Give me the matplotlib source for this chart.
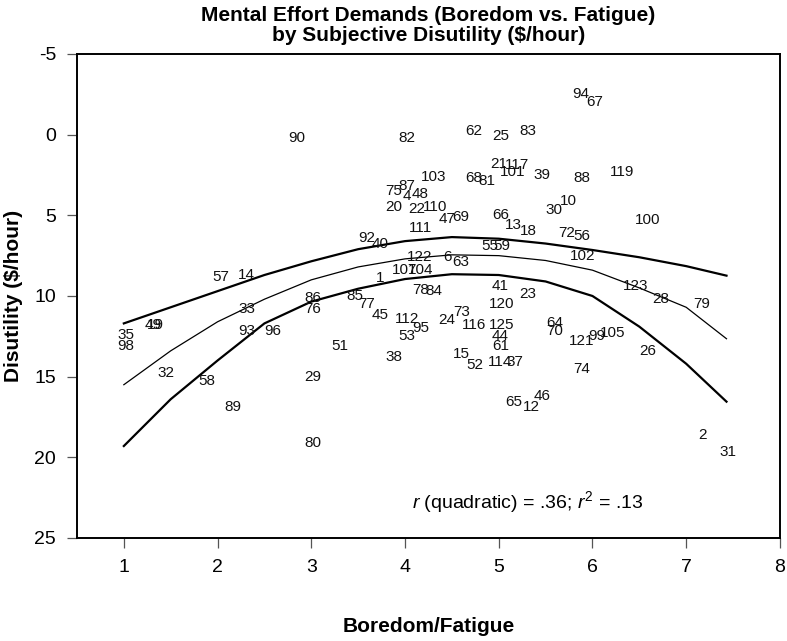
import matplotlib
matplotlib.use("Agg")
import matplotlib.pyplot as plt

# case labels and their (boredom/fatigue, disutility) positions
ids = ["94", "67", "119", "88", "10", "30", "100", "72", "56", "102", "123", "28", "79",
       "82", "62", "25", "83", "21", "117", "101", "39", "103", "68", "81", "87", "75",
       "4", "48", "20", "22", "110", "47", "69", "66", "13", "18", "111", "92", "40",
       "55", "59", "122", "6", "63", "107", "104", "1", "78", "84", "85", "77", "45",
       "112", "95", "53", "24", "73", "116", "41", "120", "23", "125", "44", "61", "51",
       "38", "15", "52", "114", "37", "65", "46", "12", "64", "70", "121", "99", "105",
       "26", "74", "2", "31", "57", "14", "49", "19", "35", "98", "33", "86", "76", "93",
       "96", "32", "58", "29", "89", "80", "90"]
boredom = [5.87, 6.02, 6.32, 5.89, 5.74, 5.59, 6.59, 5.73, 5.89, 5.89, 6.46, 6.73, 7.17,
           4.02, 4.73, 5.02, 5.31, 5.00, 5.19, 5.15, 5.46, 4.31, 4.73, 4.87, 4.02, 3.88,
           4.02, 4.16, 3.88, 4.13, 4.32, 4.45, 4.60, 5.02, 5.16, 5.32, 4.16, 3.59, 3.73,
           4.90, 5.03, 4.16, 4.45, 4.60, 4.00, 4.17, 3.73, 4.17, 4.31, 3.46, 3.59, 3.73,
           4.02, 4.17, 4.02, 4.45, 4.60, 4.74, 5.02, 5.03, 5.31, 5.03, 5.02, 5.02, 3.31,
           3.88, 4.60, 4.74, 5.01, 5.17, 5.16, 5.46, 5.35, 5.60, 5.60, 5.88, 6.05, 6.22,
           6.59, 5.89, 7.17, 7.45, 2.03, 2.31, 1.31, 1.34, 1.02, 1.02, 2.31, 3.02, 3.02, 2.31,
           2.59, 1.45, 1.89, 3.02, 2.16, 3.02, 2.85]
disutility = [-2.5, -2.0, 2.3, 2.7, 4.1, 4.7, 5.3, 6.1, 6.3, 7.5, 9.4, 10.2, 10.5,
              0.2, -0.25, 0.06, -0.25, 1.8, 1.9, 2.3, 2.5, 2.6, 2.7, 2.9, 3.2, 3.5,
              3.8, 3.7, 4.5, 4.6, 4.5, 5.2, 5.1, 5.0, 5.6, 6.0, 5.8, 6.4, 6.8,
              6.9, 6.9, 7.6, 7.6, 7.9, 8.4, 8.4, 8.9, 9.6, 9.7, 10.0, 10.5, 11.2,
              11.4, 12.0, 12.5, 11.5, 11.0, 11.8, 9.4, 10.5, 9.9, 11.8, 12.5, 13.1, 13.1,
              13.8, 13.6, 14.3, 14.1, 14.1, 16.6, 16.2, 16.9, 11.7, 12.2, 12.8, 12.5, 12.3,
              13.4, 14.5, 18.6, 19.7, 8.8, 8.7, 11.8, 11.8, 12.4, 13.1, 10.8, 10.1, 10.8, 12.2,
              12.2, 14.8, 15.3, 15.0, 16.9, 19.1, 0.2]

# quadratic fit and its bands
curve_x = [1.0, 1.5, 2.0, 2.5, 3.0, 3.5, 4.0, 4.5, 5.0, 5.5, 6.0, 6.5, 7.0, 7.43]
band_top = [11.7, 10.7, 9.7, 8.7, 7.85, 7.1, 6.6, 6.35, 6.45, 6.75, 7.15, 7.6, 8.15, 8.74]
fit_mid = [15.5, 13.4, 11.6, 10.2, 9.0, 8.2, 7.7, 7.45, 7.5, 7.8, 8.4, 9.5, 10.7, 12.65]
band_low = [19.3, 16.4, 14.0, 11.7, 10.35, 9.55, 8.95, 8.65, 8.7, 9.1, 10.0, 11.9, 14.2, 16.55]

xticks = [1, 2, 3, 4, 5, 6, 7, 8]
yticks = [-5, 0, 5, 10, 15, 20, 25]

plt.rcParams["font.family"] = ["Liberation Sans", "DejaVu Sans"]
plt.rcParams["axes.unicode_minus"] = False
plt.rcParams["mathtext.fontset"] = "custom"
plt.rcParams["mathtext.rm"] = "Liberation Sans"
plt.rcParams["mathtext.it"] = "Liberation Sans:italic"

fig = plt.figure(figsize=(7.87, 6.41), dpi=100)
ax = fig.add_axes([0.0978, 0.1607, 0.8932, 0.7551])

ax.plot(curve_x, band_top, color="black", lw=1.6)
ax.plot(curve_x, fit_mid, color="black", lw=0.9)
ax.plot(curve_x, band_low, color="black", lw=1.6)

for lab, x, y in zip(ids, boredom, disutility):
    ax.text(x, y, lab, ha="center", va="center", fontsize=11, color="#111111")

ax.text(5.31, 22.8, r"$\it{r}$ (quadratic) = .36; $\it{r}^2$ = .13",
        ha="center", va="center", fontsize=14)

ax.set_xlim(0.5, 8.0)
ax.set_ylim(25, -5)
ax.set_xticks(xticks)
ax.set_yticks(yticks)
ax.tick_params(axis="both", labelsize=14, length=7, width=0.9, color="#555555",
               direction="out", pad=8)
for s in ax.spines.values():
    s.set_linewidth(1.4)

ax.set_xlabel("Boredom/Fatigue", fontsize=15, fontweight="bold", labelpad=30)
ax.set_ylabel("Disutility ($/hour)", fontsize=15, fontweight="bold", labelpad=8)
ax.set_title("Mental Effort Demands (Boredom vs. Fatigue)\nby Subjective Disutility ($/hour)",
             fontsize=15, fontweight="bold", pad=9, linespacing=1.1)

fig.savefig("out.png", dpi=100)
